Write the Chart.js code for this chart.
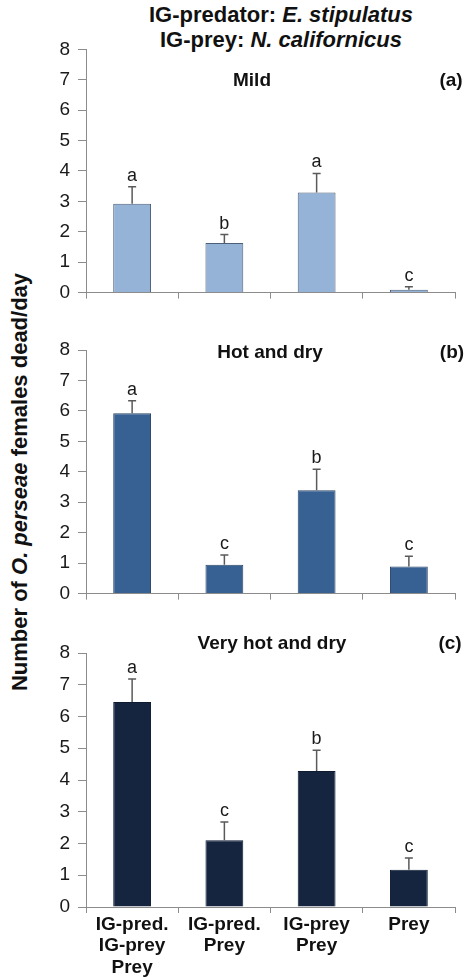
<!DOCTYPE html>
<html lang="en">
<head>
  <meta charset="UTF-8" />
  <title>O. perseae females dead/day</title>
  <script src="https://cdn.jsdelivr.net/npm/chart.js"></script>
  <style>
    body {
      margin: 0;
      width: 466px;
      height: 977px;
      background: #fff;
      font-family: "Liberation Sans", Arial, sans-serif;
      color: #111;
      position: relative;
      overflow: hidden;
    }
    .panel {
      position: absolute;
      left: 0;
      width: 466px;
    }
    .txt {
      position: absolute;
      font-weight: bold;
      white-space: nowrap;
      font-size: 19px;
      transform: translate(-50%, -50%);
    }
    #header {
      position: absolute;
      left: 281px;
      top: 2px;
      transform: translateX(-50%);
      text-align: center;
      font-weight: bold;
      font-size: 22px;
      line-height: 25px;
      white-space: nowrap;
    }
    #ytitle {
      position: absolute;
      left: 20px;
      top: 482px;
      transform: translate(-50%, -50%) rotate(-90deg);
      font-weight: bold;
      font-size: 22px;
      white-space: nowrap;
    }
  </style>
</head>
<body>
  <div id="header">IG-predator: <i>E. stipulatus</i><br>IG-prey: <i>N. californicus</i></div>
  <div id="ytitle">Number of <i>O. perseae</i> females dead/day</div>

  <div class="panel" style="top:30px;height:282px"><canvas id="chartA"></canvas></div>
  <div class="panel" style="top:330px;height:283px"><canvas id="chartB"></canvas></div>
  <div class="panel" style="top:633px;height:344px"><canvas id="chartC"></canvas></div>

  <div class="txt" style="left:252px;top:80px">Mild</div>
  <div class="txt" style="left:451px;top:80px">(a)</div>
  <div class="txt" style="left:270px;top:352px">Hot and dry</div>
  <div class="txt" style="left:452px;top:352px">(b)</div>
  <div class="txt" style="left:272px;top:643px">Very hot and dry</div>
  <div class="txt" style="left:450px;top:643px">(c)</div>

  <script>
    // treatments (x categories)
    const categories = [
      ["IG-pred.", "IG-prey", "Prey"],
      ["IG-pred.", "Prey"],
      ["IG-prey", "Prey"],
      "Prey"
    ];
    const yTicks = [0, 1, 2, 3, 4, 5, 6, 7, 8];

    // (a) Mild
    const mildMeans = [2.92, 1.63, 3.29, 0.09];
    const mildSE = [0.56, 0.28, 0.63, 0.10];
    const mildLetters = ["a", "b", "a", "c"];

    // (b) Hot and dry
    const hotMeans = [5.92, 0.95, 3.39, 0.89];
    const hotSE = [0.41, 0.32, 0.69, 0.34];
    const hotLetters = ["a", "c", "b", "c"];

    // (c) Very hot and dry
    const veryHotMeans = [6.46, 2.10, 4.28, 1.17];
    const veryHotSE = [0.72, 0.58, 0.66, 0.37];
    const veryHotLetters = ["a", "c", "b", "c"];

    const FONT = "'Liberation Sans', Arial, sans-serif";
    const AXIS = "#8c8c8c";

    // draws upper error bar + significance letter over each bar
    const errorBars = {
      id: "errorBars",
      afterDatasetsDraw(chart, args, opts) {
        const ctx = chart.ctx;
        const y = chart.scales.y;
        const meta = chart.getDatasetMeta(0);
        ctx.save();
        meta.data.forEach((bar, i) => {
          const top = y.getPixelForValue(opts.means[i] + opts.se[i]);
          ctx.strokeStyle = "#5a5a5a";
          ctx.lineWidth = 1.5;
          ctx.beginPath();
          ctx.moveTo(bar.x, bar.y);
          ctx.lineTo(bar.x, top);
          ctx.moveTo(bar.x - 4, top);
          ctx.lineTo(bar.x + 4, top);
          ctx.stroke();
          ctx.fillStyle = "#1a1a1a";
          ctx.font = "18px " + FONT;
          ctx.textAlign = "center";
          ctx.textBaseline = "bottom";
          ctx.fillText(opts.letters[i], bar.x, top - 2);
        });
        ctx.restore();
      }
    };

    function makePanel(id, means, se, letters, fill, border, padTop, xHeight, showLabels) {
      new Chart(document.getElementById(id), {
        type: "bar",
        data: {
          labels: categories,
          datasets: [{
            data: means,
            backgroundColor: fill,
            borderColor: border,
            borderWidth: 1,
            categoryPercentage: 1,
            barPercentage: 0.41
          }]
        },
        options: {
          responsive: true,
          maintainAspectRatio: false,
          animation: false,
          layout: { padding: { top: padTop, right: 11, left: 0, bottom: 0 } },
          plugins: {
            legend: { display: false },
            tooltip: { enabled: false },
            errorBars: { means: means, se: se, letters: letters }
          },
          scales: {
            x: {
              offset: true,
              grid: {
                offset: true,
                drawOnChartArea: false,
                drawTicks: true,
                tickLength: 6,
                color: AXIS
              },
              border: { color: AXIS, width: 1 },
              ticks: {
                display: showLabels,
                autoSkip: false,
                maxRotation: 0,
                padding: 1,
                color: "#111",
                font: { family: FONT, size: 19, weight: "bold", lineHeight: 1.13 }
              },
              afterFit(scale) { scale.height = xHeight; }
            },
            y: {
              min: 0,
              max: 8,
              afterBuildTicks(scale) { scale.ticks = yTicks.map(v => ({ value: v })); },
              grid: {
                drawOnChartArea: false,
                drawTicks: true,
                tickLength: 8,
                color: AXIS
              },
              border: { color: AXIS, width: 1 },
              ticks: {
                padding: 8,
                color: "#1a1a1a",
                font: { family: FONT, size: 19 }
              },
              afterFit(scale) { scale.width = 86; }
            }
          }
        },
        plugins: [errorBars]
      });
    }

    makePanel("chartA", mildMeans, mildSE, mildLetters, "#95b3d7", "#4d5f78", 17, 10, false);
    makePanel("chartB", hotMeans, hotSE, hotLetters, "#386193", "#2a4566", 20, 10, false);
    makePanel("chartC", veryHotMeans, veryHotSE, veryHotLetters, "#152540", "#0d1a30", 20, 70, true);
  </script>
</body>
</html>
